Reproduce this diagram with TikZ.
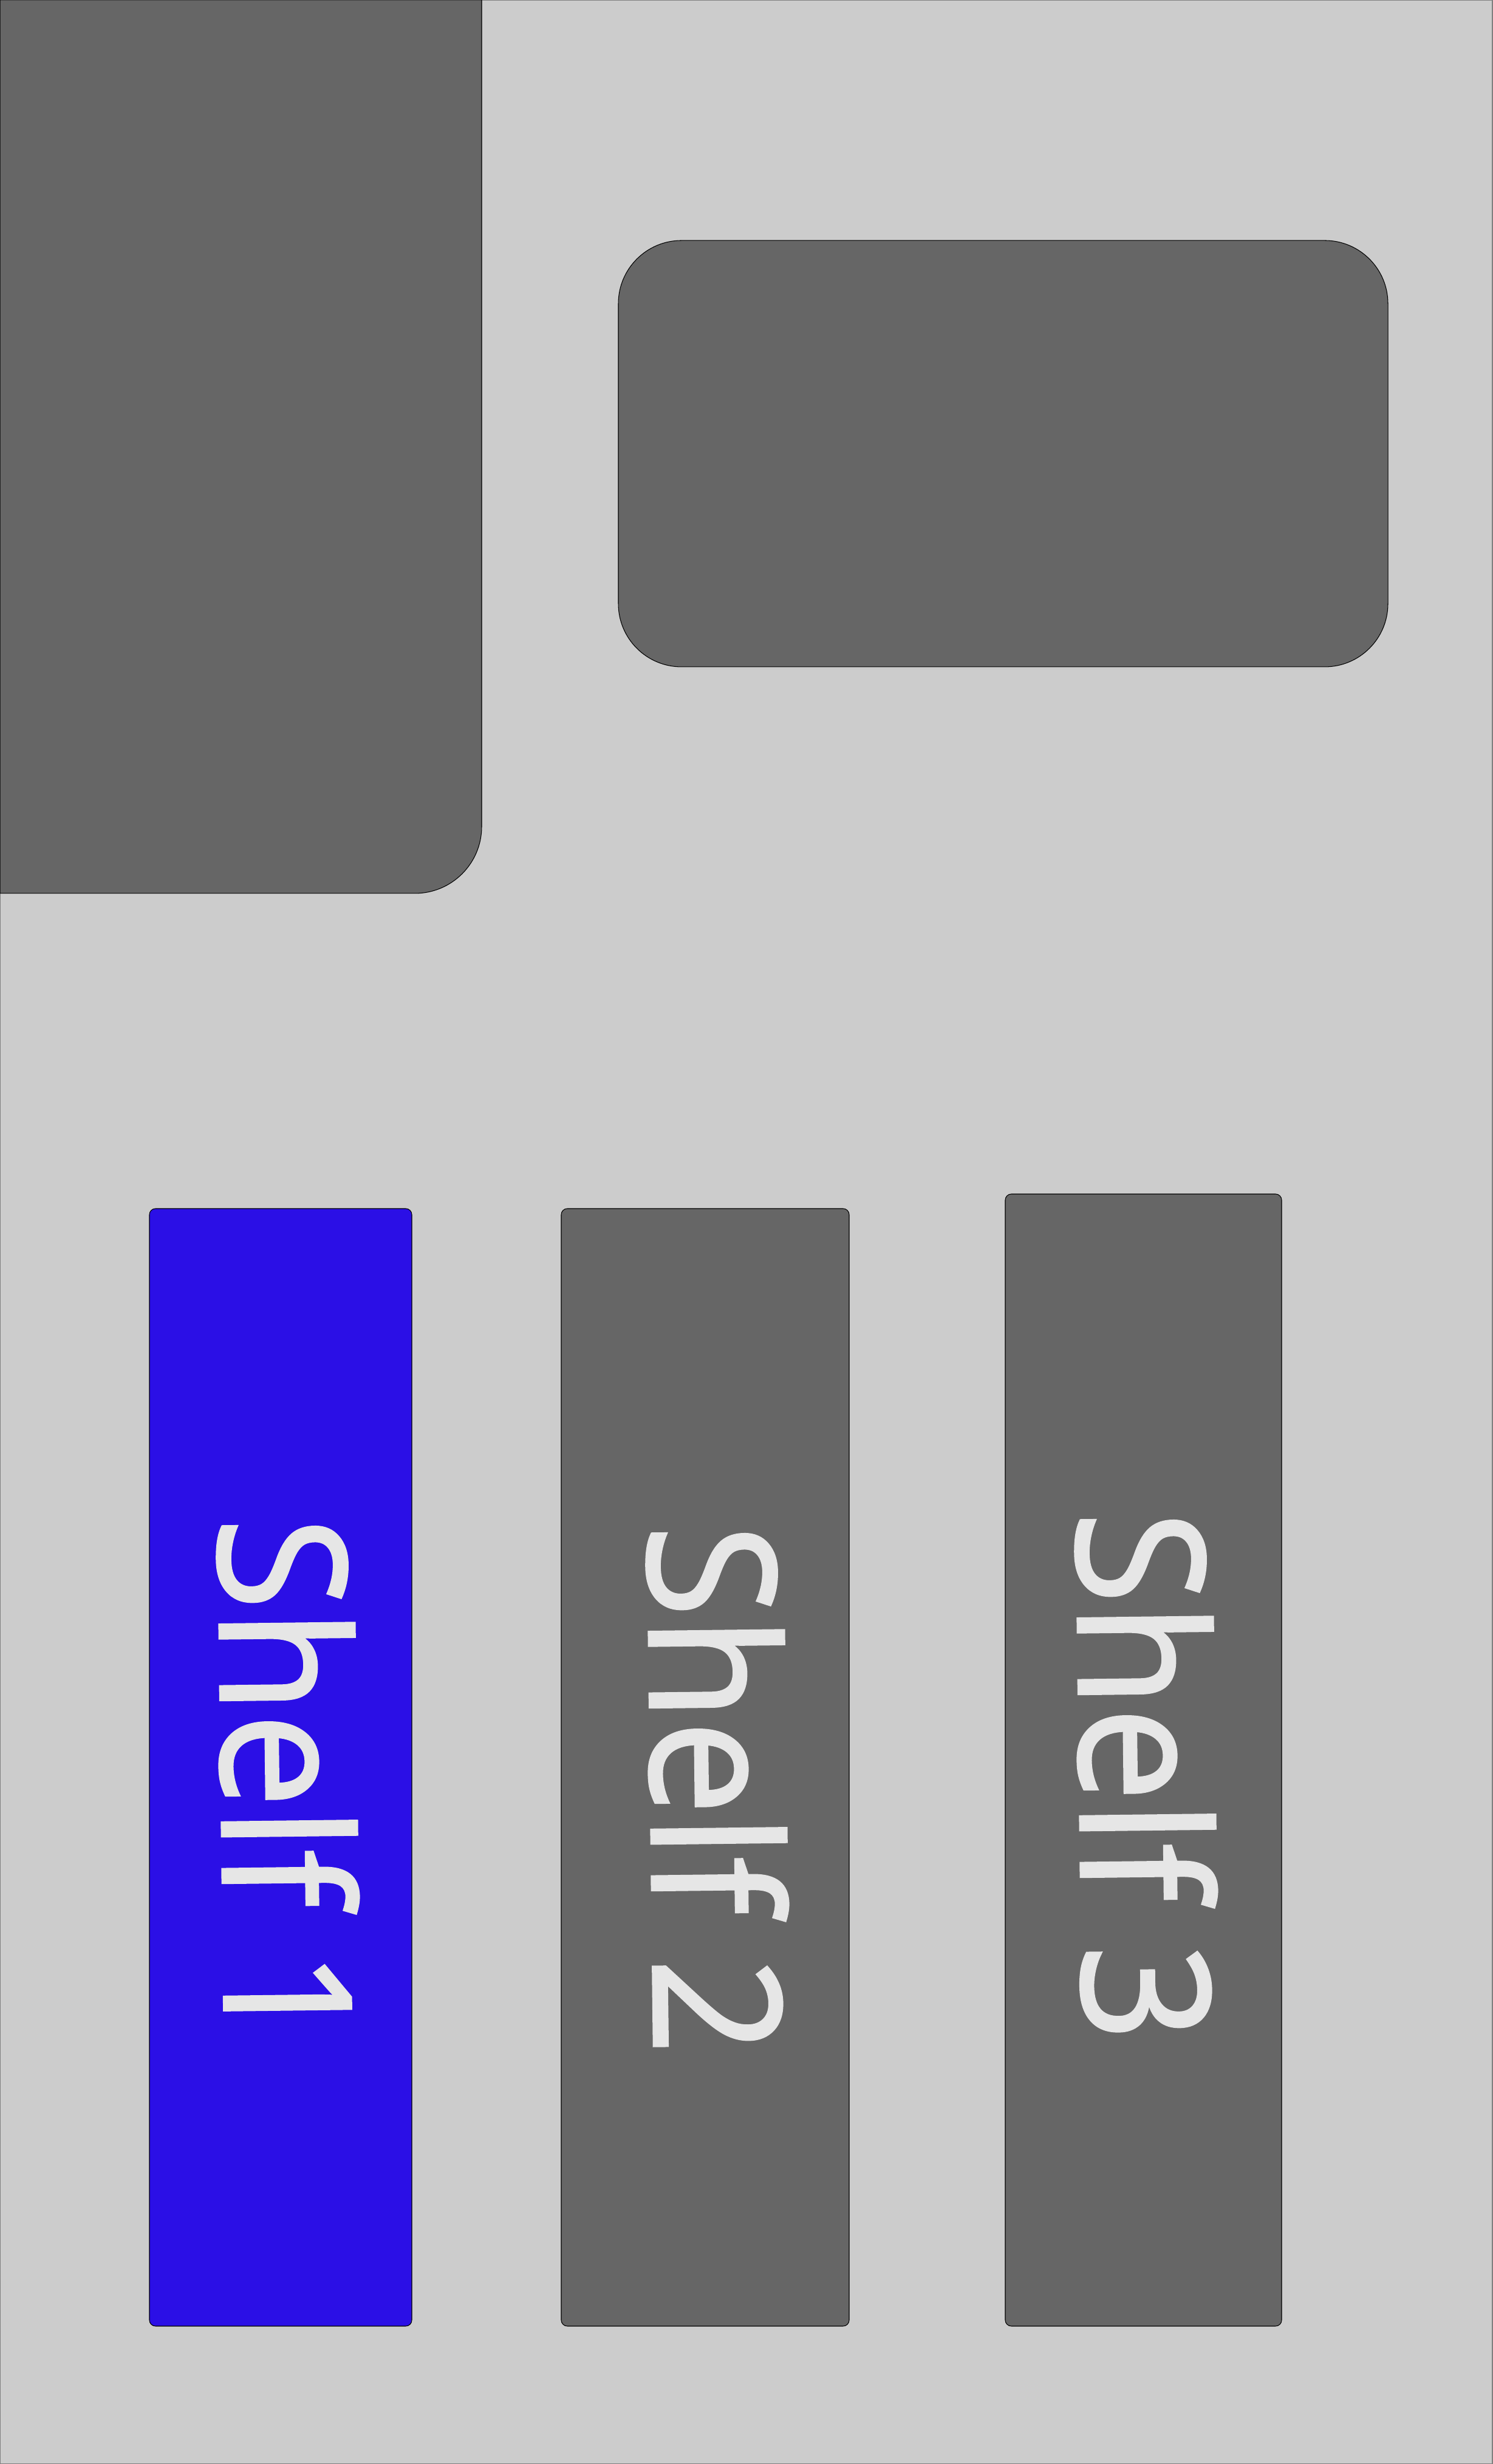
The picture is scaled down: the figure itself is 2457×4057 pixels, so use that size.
\documentclass[tikz,border=0pt]{standalone}
\usepackage{fontspec}
\setmainfont{Open Sans}
\newfontfamily\labelfont[FakeBold=1.5]{Open Sans}

\definecolor{floorgray}{RGB}{204,204,204}
\definecolor{blockgray}{RGB}{102,102,102}
\definecolor{shelfblue}{RGB}{43,15,230}
\definecolor{labelgray}{RGB}{230,230,230}

\begin{document}
\begin{tikzpicture}[x = 0.01cm, y = 0.01cm, outline/.style = {draw=black, line width=0.3pt}, block/.style = {outline, fill=blockgray}, shelf/.style = {outline, fill=blockgray, rounded corners=0.1cm}, shelflabel/.style = {text=labelgray, inner sep=0pt, font=\labelfont\fontsize{83}{90}\selectfont, rotate=-89.3, xscale=0.95}]

    \useasboundingbox (0,0) rectangle (2457,4057);

    % floor
    \draw[draw=gray, line width=0.6pt, fill=floorgray] (0,0) rectangle (2457,4057);

    % blocks
    \draw[block] (0,4057) -- (793,4057) -- (793,2696) arc[start angle=0, end angle=-90, radius=110] -- (0,2586) -- cycle;
    \draw[block, rounded corners=1.04cm] (1018,2959) rectangle (2285,3661);

    % shelves
    \draw[shelf, fill=shelfblue] (246,227) rectangle (678,2067);
    \draw[shelf] (924,227) rectangle (1398,2067);
    \draw[shelf] (1655,227) rectangle (2110,2091);

    % labels
    \node[shelflabel] (label1) at (475,1123) {Shelf 1};
    \node[shelflabel] (label2) at (1182,1111) {Shelf 2};
    \node[shelflabel] (label3) at (1888,1133) {Shelf 3};

\end{tikzpicture}
\end{document}
